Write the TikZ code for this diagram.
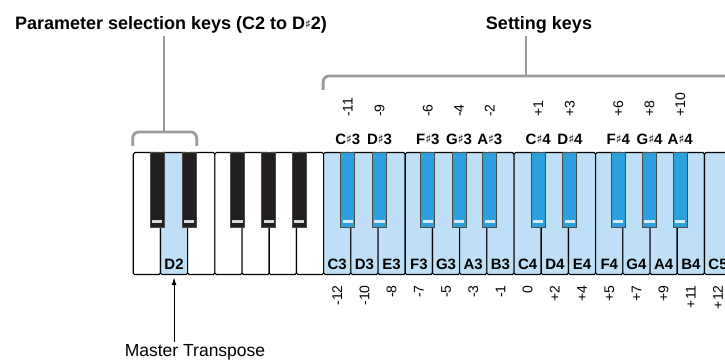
\documentclass[tikz,border=0pt]{standalone}
\usepackage{fontspec}
\setmainfont{Liberation Sans}
\newfontfamily\symfont{DejaVu Sans}
\usetikzlibrary{arrows.meta,positioning}
\definecolor{keyblue}{HTML}{BEDFF5}
\definecolor{sharpblue}{HTML}{2BA0DC}
\definecolor{keyblack}{HTML}{231F20}
\definecolor{bracketgray}{HTML}{9B9B9B}
\newcommand{\shp}{{\symfont\fontsize{12}{12}\selectfont\raisebox{1.5pt}{♯}}}

\begin{document}
\begin{tikzpicture}[x=1pt,y=1pt,
  wkey/.style={draw,line width=1.1pt,rounded corners=1.5pt,fill=white,minimum width=27.2pt,minimum height=122pt,inner sep=0,anchor=north west},
  bkey/.style={draw=black!70,line width=1.1pt,fill=keyblack,minimum width=14pt,minimum height=75pt,inner sep=0,anchor=north},
  glint/.style={fill=white!85!black},
  keyname/.style={font=\fontsize{15}{16}\selectfont\bfseries,inner sep=0,anchor=base},
  num/.style={font=\fontsize{14}{15}\selectfont,inner sep=0,rotate=90},
  title/.style={font=\fontsize{18}{20}\selectfont\bfseries,inner sep=2pt,anchor=base},
  bracket/.style={draw=bracketgray,line width=2.8pt,rounded corners=6pt}]
\path[use as bounding box,clip] (0,0) rectangle (725,361);

% white keys C2 to B2
\foreach \i/\c in {0/white,1/keyblue,2/white,3/white,4/white,5/white,6/white}
  \node[wkey,fill=\c] (w\i) at (132.7+\i*27.2,209) {};
\node[keyname] (l1) at ([yshift=6pt]w1.south) {D2};

% white keys C3 to C5 (setting keys)
\foreach \n/\v [count=\i from 7] in {C3/-12,D3/-10,E3/-8,F3/-7,G3/-5,A3/-3,B3/-1,
    C4/0,D4/+2,E4/+4,F4/+5,G4/+7,A4/+9,B4/+11,C5/+12} {
  \node[wkey,fill=keyblue] (w\i) at (132.7+\i*27.2,209) {};
  \node[keyname] (l\i) at ([yshift=6pt]w\i.south) {\n};
  \node[num,anchor=east] (n\i) at ([yshift=-10pt]w\i.south) {\v};
}

% black keys C#2 to A#2
\foreach \k/\d in {1/-2.5,2/2,4/-4,5/0,6/3.5} {
  \node[bkey] (b\k) at (132.7+\k*27.2+\d,209) {};
  \fill[glint] ([xshift=2.5pt,yshift=5pt]b\k.south west) rectangle ([xshift=-2.5pt,yshift=8pt]b\k.south east);
}

% black keys C#3 to A#4
\foreach \k/\d/\n/\o/\v in {8/-2.5/C/3/-11,9/2/D/3/-9,11/-4/F/3/-6,12/0/G/3/-4,13/3.5/A/3/-2,
    15/-2.5/C/4/+1,16/2/D/4/+3,18/-4/F/4/+6,19/0/G/4/+8,20/3.5/A/4/+10} {
  \node[bkey,fill=sharpblue] (b\k) at (132.7+\k*27.2+\d,209) {};
  \fill[white!80!sharpblue] ([xshift=2.5pt,yshift=5pt]b\k.south west) rectangle ([xshift=-2.5pt,yshift=8pt]b\k.south east);
  \node[keyname] (s\k) at ([yshift=7pt]b\k.north) {\n\shp\o};
  \node[num,anchor=west] (m\k) at ([yshift=35pt]b\k.north) {\v};
}

% brackets and titles
\node[title] (ptitle) at (171,331) {Parameter selection keys (C2 to D\shp2)};
\node[title] (stitle) at (539,331) {Setting keys};
\coordinate (pstem) at (164,229);
\coordinate (sstem) at (526,285);
\draw[bracket] ([yshift=6pt]w0.north west) |- (pstem -| b2.east) -- ([yshift=6pt]b2.north east);
\draw[bracket] ([yshift=62pt]w7.north west) |- (sstem -| w21.east) -- ([yshift=62pt]w21.north east);
\draw[bracket] (ptitle.south -| pstem) -- (pstem);
\draw[bracket] (stitle.south -| sstem) -- (sstem);

% master transpose
\node[font=\fontsize{17.5}{18}\selectfont,inner sep=0,anchor=base] (mt) at (195,4) {Master Transpose};
\draw[line width=1pt,-{Latex[length=8pt,width=5pt]}] ([yshift=3pt]mt.north -| w1) -- ([yshift=-2pt]w1.south);
\end{tikzpicture}
\end{document}
